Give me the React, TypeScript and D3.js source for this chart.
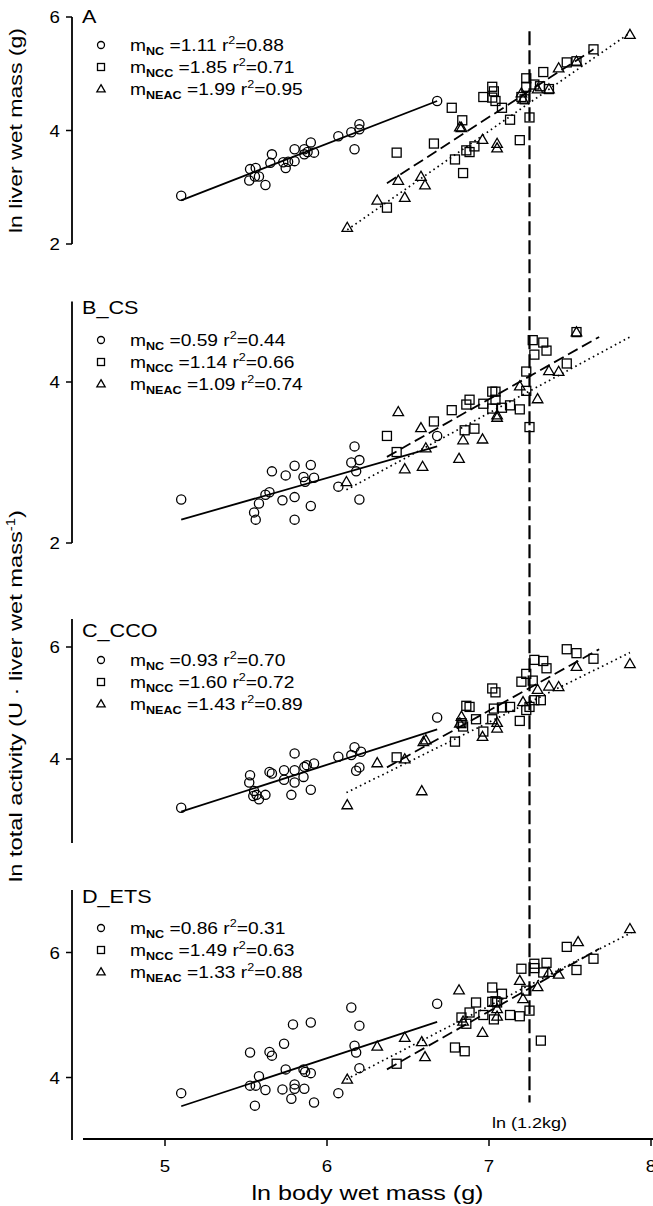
import React from 'react';
import * as d3 from 'd3';

// ---------- data ----------
const X_DOMAIN: [number, number] = [4.5, 8];
const X_TICKS = [5, 6, 7, 8];
const THRESHOLD = 7.25;
const THRESHOLD_LABEL = 'ln (1.2kg)';
const SERIES = ['NC', 'NCC', 'NEAC'];

// Panel A: ln liver wet mass
const A_NC = [[5.10,2.85],[5.525,3.32],[5.56,3.34],[5.52,3.12],[5.555,3.19],[5.58,3.19],[5.62,3.04],[5.66,3.58],[5.65,3.43],[5.73,3.44],[5.745,3.34],[5.80,3.67],[5.80,3.46],[5.86,3.67],[5.90,3.79],[5.92,3.61],[5.86,3.58],[5.76,3.45],[5.88,3.62],[6.07,3.90],[6.15,3.97],[6.20,4.11],[6.20,4.02],[6.17,3.67],[6.68,4.52]];
const A_NCC = [[6.43,3.61],[6.37,2.64],[6.66,3.77],[6.77,4.40],[6.835,4.18],[6.86,3.65],[6.88,3.62],[6.91,3.72],[6.79,3.49],[6.84,3.25],[6.965,4.59],[7.02,4.77],[7.03,4.69],[7.02,4.58],[7.04,4.52],[7.08,4.40],[7.13,4.19],[7.19,3.83],[7.23,4.92],[7.23,4.77],[7.20,4.59],[7.22,4.55],[7.25,4.23],[7.28,4.81],[7.335,5.03],[7.315,4.78],[7.37,4.73],[7.48,5.20],[7.54,5.22],[7.645,5.43]];
const A_NEAC = [[6.125,2.29],[6.31,2.77],[6.44,3.12],[6.48,2.82],[6.58,3.19],[6.605,3.04],[6.82,4.06],[6.83,4.05],[6.96,3.84],[7.05,3.77],[7.05,3.69],[7.20,4.66],[7.21,4.55],[7.30,4.73],[7.37,4.73],[7.43,5.10],[7.54,5.22],[7.87,5.69]];
const A_FITS = [[5.10,2.77,6.68,4.52],[6.37,3.07,7.645,5.43],[6.125,2.25,7.87,5.72]];
const A_STATS = [['1.11','0.88'],['1.85','0.71'],['1.99','0.95']];

// Panel B: CS
const B_NC = [[5.10,2.54],[5.55,2.38],[5.56,2.29],[5.58,2.49],[5.62,2.60],[5.645,2.63],[5.66,2.89],[5.745,2.84],[5.725,2.53],[5.80,2.96],[5.80,2.57],[5.80,2.29],[5.855,2.82],[5.865,2.76],[5.90,2.97],[5.92,2.81],[5.90,2.46],[6.17,3.20],[6.15,3.00],[6.20,3.03],[6.18,2.89],[6.07,2.70],[6.20,2.54],[6.68,3.33]];
const B_NCC = [[6.37,3.33],[6.43,3.13],[6.66,3.51],[6.77,3.65],[6.86,3.72],[6.88,3.78],[6.85,3.40],[6.91,3.42],[6.965,3.73],[7.02,3.88],[7.04,3.88],[7.04,3.78],[7.02,3.67],[7.08,3.68],[7.13,3.71],[7.19,3.66],[7.23,4.13],[7.23,3.89],[7.25,3.44],[7.27,4.52],[7.335,4.49],[7.355,4.39],[7.28,4.34],[7.48,4.23],[7.54,4.62]];
const B_NEAC = [[6.12,2.76],[6.44,3.63],[6.48,2.92],[6.58,3.43],[6.59,2.95],[6.61,3.18],[6.815,3.05],[6.84,3.28],[6.96,3.29],[7.05,3.59],[7.05,3.56],[7.19,3.95],[7.30,3.79],[7.37,4.14],[7.43,4.13],[7.54,4.62]];
const B_FITS = [[5.10,2.29,6.68,3.20],[6.37,3.07,7.68,4.56],[6.12,2.66,7.87,4.56]];
const B_STATS = [['0.59','0.44'],['1.14','0.66'],['1.09','0.74']];

// Panel C: CCO
const C_NC = [[5.10,3.13],[5.525,3.71],[5.52,3.58],[5.55,3.43],[5.565,3.36],[5.58,3.28],[5.545,3.34],[5.62,3.36],[5.645,3.77],[5.66,3.74],[5.735,3.80],[5.735,3.63],[5.80,4.10],[5.80,3.80],[5.80,3.58],[5.78,3.36],[5.86,3.86],[5.855,3.68],[5.875,3.89],[5.92,3.92],[5.90,3.45],[6.07,4.04],[6.15,4.07],[6.17,4.21],[6.21,4.13],[6.18,3.79],[6.20,3.85],[6.68,4.74]];
const C_NCC = [[6.43,4.03],[6.79,4.31],[6.83,4.64],[6.84,4.58],[6.86,4.95],[6.88,4.93],[6.92,4.71],[6.965,4.49],[7.02,5.26],[7.04,5.19],[7.02,4.71],[7.03,4.90],[7.08,4.92],[7.13,4.93],[7.19,4.68],[7.20,5.38],[7.23,5.52],[7.27,5.40],[7.28,5.77],[7.335,5.75],[7.355,5.62],[7.23,4.875],[7.28,5.05],[7.32,5.05],[7.25,4.93],[7.48,5.96],[7.54,5.89],[7.645,5.79]];
const C_NEAC = [[6.125,3.18],[6.31,3.93],[6.48,4.00],[6.585,3.43],[6.595,4.31],[6.61,4.34],[6.83,4.76],[6.82,4.64],[6.96,4.40],[7.05,4.55],[7.05,4.65],[7.21,5.02],[7.30,5.24],[7.37,5.30],[7.43,5.29],[7.54,5.65],[7.87,5.70]];
const C_FITS = [[5.10,3.06,6.68,4.53],[6.37,3.85,7.68,5.96],[6.12,3.40,7.87,5.90]];
const C_STATS = [['0.93','0.70'],['1.60','0.72'],['1.43','0.89']];

// Panel D: ETS
const D_NC = [[5.10,3.75],[5.525,4.40],[5.525,3.87],[5.56,3.87],[5.555,3.55],[5.58,4.02],[5.62,3.80],[5.645,4.41],[5.66,4.35],[5.735,4.54],[5.745,4.13],[5.725,3.81],[5.78,3.66],[5.79,4.85],[5.80,3.89],[5.80,3.82],[5.86,3.82],[5.90,4.88],[5.855,4.13],[5.865,4.09],[5.90,4.07],[5.92,3.60],[6.07,3.75],[6.15,5.12],[6.20,4.83],[6.17,4.51],[6.18,4.40],[6.20,4.15],[6.68,5.18]];
const D_NCC = [[6.43,4.22],[6.79,4.48],[6.85,4.42],[6.83,4.96],[6.86,4.86],[6.88,5.04],[6.92,5.20],[6.965,5.00],[7.02,5.44],[7.08,5.34],[7.02,5.21],[7.04,5.22],[7.05,5.20],[7.03,4.93],[7.13,5.00],[7.19,4.98],[7.20,5.74],[7.23,5.39],[7.25,5.07],[7.28,5.82],[7.28,5.75],[7.355,5.835],[7.335,5.68],[7.32,4.59],[7.48,6.09],[7.54,5.72],[7.645,5.90]];
const D_NEAC = [[6.125,3.97],[6.31,4.50],[6.48,4.64],[6.585,4.57],[6.605,4.33],[6.815,5.40],[6.84,4.90],[6.96,4.72],[7.05,4.98],[7.05,5.10],[7.19,5.55],[7.21,5.26],[7.30,5.45],[7.37,5.68],[7.43,5.65],[7.55,6.17],[7.87,6.38]];
const D_FITS = [[5.10,3.54,6.68,4.89],[6.37,4.13,7.68,6.06],[6.12,3.97,7.88,6.32]];
const D_STATS = [['0.86','0.31'],['1.49','0.63'],['1.33','0.88']];

const PANELS = [
  { label: 'A', domain: [2, 6], ticks: [2, 4, 6], data: [A_NC, A_NCC, A_NEAC], fits: A_FITS, stats: A_STATS },
  { label: 'B_CS', domain: [2, 5], ticks: [2, 4], data: [B_NC, B_NCC, B_NEAC], fits: B_FITS, stats: B_STATS },
  { label: 'C_CCO', domain: [2.5, 6.5], ticks: [4, 6], data: [C_NC, C_NCC, C_NEAC], fits: C_FITS, stats: C_STATS },
  { label: 'D_ETS', domain: [3, 7], ticks: [4, 6], data: [D_NC, D_NCC, D_NEAC], fits: D_FITS, stats: D_STATS },
];

// ---------- layout ----------
const W = 653, H = 1206;
const LAYOUT = [
  { bottom: 244, top: 17, labelY: 23, legendY: 45 },
  { bottom: 543, top: 301.5, labelY: 314, legendY: 340 },
  { bottom: 843, top: 619, labelY: 637, legendY: 660 },
  { bottom: 1140, top: 890, labelY: 903, legendY: 928 },
];
const Y_AXIS_X = 72;
const X_AXIS_START = 83;
const SX = 1.2; // horizontal glyph stretch of the reference font
const FONT = 'Arial, "Liberation Sans", sans-serif';

const x = d3.scaleLinear().domain(X_DOMAIN).range([84, 651]);

const triPath = (s: number) => d3.symbol(d3.symbolTriangle, s)() as string;

function Marker({ kind, cx, cy, small }: { kind: number; cx: number; cy: number; small?: boolean }) {
  const sw = 1.3;
  if (kind === 0) {
    return <circle cx={cx} cy={cy} r={small ? 3.5 : 4.6} fill="none" stroke="#000" strokeWidth={sw} />;
  }
  if (kind === 1) {
    const s = small ? 7 : 9;
    return <rect x={cx - s / 2} y={cy - s / 2} width={s} height={s} fill="none" stroke="#000" strokeWidth={sw} />;
  }
  return <path d={triPath(small ? 30 : 48)} transform={`translate(${cx},${cy + (small ? 0.5 : 0.8)})`} fill="none" stroke="#000" strokeWidth={sw} />;
}

const FIT_DASH = [null, '11 5', '1.6 3.4'];

export default function App() {
  const yD = d3.scaleLinear().domain(PANELS[3].domain).range([LAYOUT[3].bottom, LAYOUT[3].top]);
  const yA = d3.scaleLinear().domain(PANELS[0].domain).range([LAYOUT[0].bottom, LAYOUT[0].top]);
  return (
    <svg width={W} height={H} style={{ position: 'absolute', left: 0, top: 0, background: '#fff' }} fontFamily={FONT}>
      {PANELS.map((p, i) => {
        const L = LAYOUT[i];
        const y = d3.scaleLinear().domain(p.domain).range([L.bottom, L.top]);
        const line = d3.line<number[]>().x(d => x(d[0])).y(d => y(d[1]));
        return (
          <g key={p.label}>
            {/* y axis */}
            <line x1={Y_AXIS_X} x2={Y_AXIS_X} y1={y(p.domain[0])} y2={y(p.domain[1])} stroke="#000" strokeWidth={1.8} />
            {p.ticks.map(t => (
              <g key={t}>
                <line x1={Y_AXIS_X - 6} x2={Y_AXIS_X} y1={y(t)} y2={y(t)} stroke="#000" strokeWidth={1.5} />
                <text transform={`translate(${Y_AXIS_X - 12},${y(t) + 6}) scale(1.1,1)`} fontSize={17} textAnchor="end">{t}</text>
              </g>
            ))}
            {/* panel label */}
            <text transform={`translate(82,${L.labelY}) scale(${SX},1)`} fontSize={18}>{p.label}</text>
            {/* legend */}
            {SERIES.map((s, k) => {
              const ly = L.legendY + k * 22;
              return (
                <g key={s}>
                  <Marker kind={k} cx={101} cy={ly} small />
                  <text transform={`translate(130,${ly + 5.5}) scale(${SX},1)`} fontSize={16}>
                    m<tspan fontSize={10.5} fontWeight="bold" dy={4}>{s}</tspan>
                    <tspan dy={-4}>{` =${p.stats[k][0]} r`}</tspan>
                    <tspan fontSize={10.5} dy={-7}>2</tspan>
                    <tspan dy={7}>{`=${p.stats[k][1]}`}</tspan>
                  </text>
                </g>
              );
            })}
            {/* fit lines */}
            {p.fits.map((f, k) => (
              <path key={k} d={line([[f[0], f[1]], [f[2], f[3]]]) as string} fill="none" stroke="#000"
                strokeWidth={k === 2 ? 1.7 : 1.8} strokeDasharray={FIT_DASH[k] ?? undefined} />
            ))}
            {/* points */}
            {p.data.map((ser, k) => ser.map((d, j) => (
              <Marker key={`${k}-${j}`} kind={k} cx={x(d[0])} cy={y(d[1])} />
            )))}
          </g>
        );
      })}

      {/* threshold line */}
      <line x1={x(THRESHOLD)} x2={x(THRESHOLD)} y1={yA(5.75)} y2={yD(3.6)} stroke="#000" strokeWidth={2.2} strokeDasharray="14 5" />
      <text transform={`translate(${x(THRESHOLD)},${yD(3.2)}) scale(${SX},1)`} fontSize={15} textAnchor="middle">{THRESHOLD_LABEL}</text>

      {/* x axis */}
      <line x1={X_AXIS_START} x2={W} y1={LAYOUT[3].bottom - 1} y2={LAYOUT[3].bottom - 1} stroke="#000" strokeWidth={1.8} />
      {X_TICKS.map(t => (
        <g key={t}>
          <line x1={x(t)} x2={x(t)} y1={LAYOUT[3].bottom - 1} y2={LAYOUT[3].bottom + 6} stroke="#000" strokeWidth={1.5} />
          <text transform={`translate(${x(t)},${LAYOUT[3].bottom + 32}) scale(1.1,1)`} fontSize={17} textAnchor="middle">{t}</text>
        </g>
      ))}
      <text x={(x(X_DOMAIN[0]) + x(X_DOMAIN[1])) / 2} y={1200} fontSize={20} textAnchor="middle"
        textLength={232} lengthAdjust="spacingAndGlyphs">ln body wet mass (g)</text>

      {/* y titles */}
      <text transform={`translate(22,${(LAYOUT[0].top + LAYOUT[0].bottom) / 2}) rotate(-90)`} fontSize={19} textAnchor="middle"
        textLength={205} lengthAdjust="spacingAndGlyphs">ln liver wet mass (g)</text>
      <text transform={`translate(22,696) rotate(-90)`} fontSize={19} textAnchor="middle"
        textLength={372} lengthAdjust="spacingAndGlyphs">
        ln total activity (U · liver wet mass<tspan fontSize={12} dy={-7}>-1</tspan><tspan dy={7}>)</tspan>
      </text>
    </svg>
  );
}
